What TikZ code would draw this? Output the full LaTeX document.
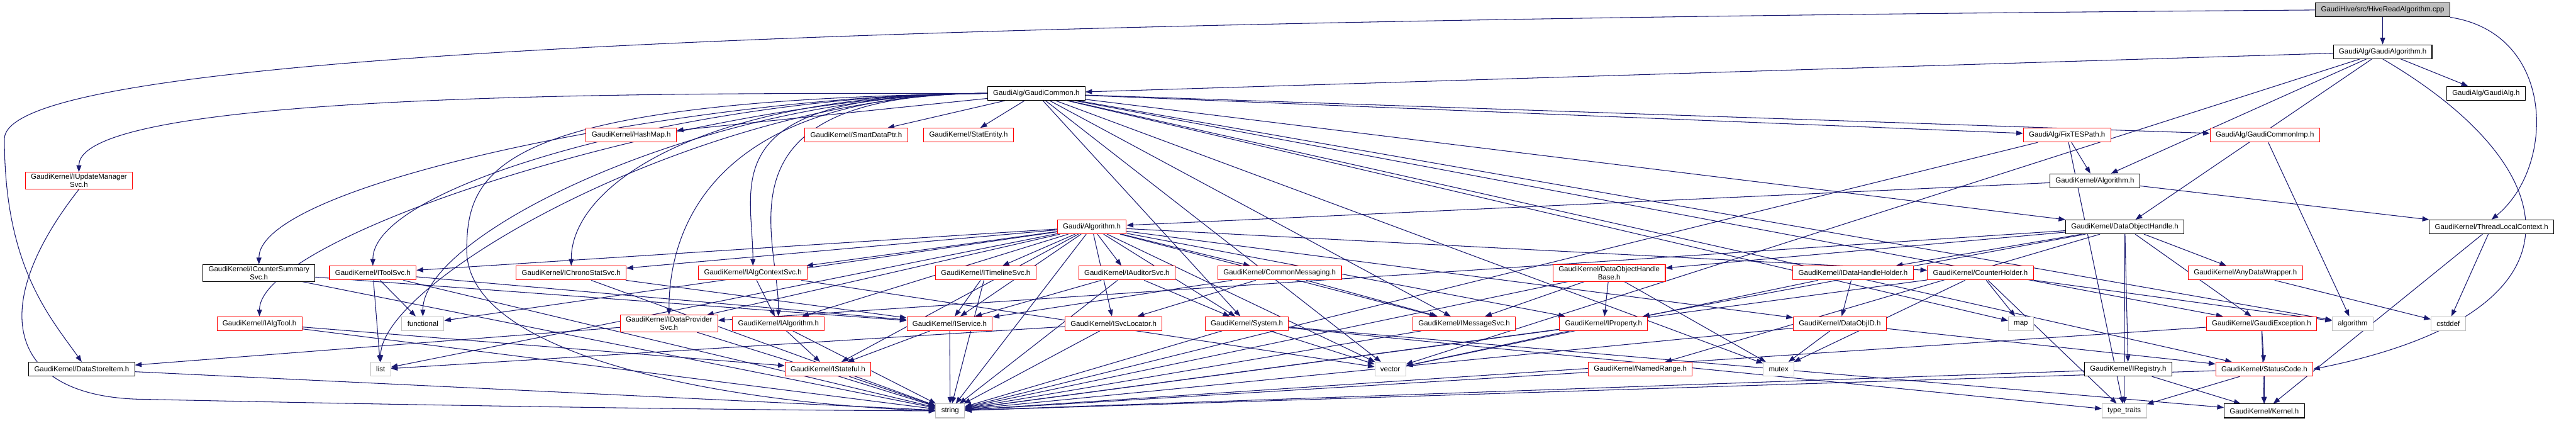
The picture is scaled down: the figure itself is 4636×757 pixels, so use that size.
\documentclass[tikz,border=0pt]{standalone}
\usepackage{fontspec}
\setmainfont{Liberation Sans}
\usetikzlibrary{arrows.meta, positioning, backgrounds}

\definecolor{edgeblue}{HTML}{191970}
\definecolor{boxgray}{HTML}{BFBFBF}

\tikzset{
  hdrbox/.style={draw, fill=white, line width=1.2pt, align=center,
    inner xsep=10pt, inner ysep=3pt, minimum height=25pt,
    font=\fontsize{13}{14.5}\selectfont},
  blackbox/.style={hdrbox, draw=black},
  redbox/.style={hdrbox, draw=red},
  graybox/.style={hdrbox, draw=boxgray},
  dep/.style={draw=edgeblue, line width=1.2pt, -{Triangle[length=12pt,width=9pt]}},
}

\begin{document}
\begin{tikzpicture}[x=1pt, y=-1pt]
  \useasboundingbox (0,0) rectangle (4636,757);

  % top: the source file and the algorithm base
  \node[blackbox, fill=boxgray] (hive) at (4288,18) {GaudiHive/src/HiveReadAlgorithm.cpp};
  \node[blackbox] (galgo)   at (4288,93)  {GaudiAlg/GaudiAlgorithm.h};
  \node[blackbox] (gcommon) at (1865,168) {GaudiAlg/GaudiCommon.h};
  \node[blackbox] (galg)    at (4474,168) {GaudiAlg/GaudiAlg.h};

  % row 4
  \node[redbox] (hashmap)    at (1136,243) {GaudiKernel/HashMap.h};
  \node[redbox] (smartptr)   at (1541,243) {GaudiKernel/SmartDataPtr.h};
  \node[redbox] (statentity) at (1743,243) {GaudiKernel/StatEntity.h};
  \node[redbox] (fixtes)     at (3720,243) {GaudiAlg/FixTESPath.h};
  \node[redbox] (gcimp)      at (4076,243) {GaudiAlg/GaudiCommonImp.h};

  % rows 5 and 6
  \node[redbox]   (iums)       at (142,325)  {GaudiKernel/IUpdateManager\\Svc.h};
  \node[blackbox] (gkalgo)     at (3770,325) {GaudiKernel/Algorithm.h};
  \node[redbox]   (galgorithm) at (1965,408) {Gaudi/Algorithm.h};
  \node[blackbox] (doh)        at (3824,408) {GaudiKernel/DataObjectHandle.h};
  \node[blackbox] (tlc)        at (4484,408) {GaudiKernel/ThreadLocalContext.h};

  % row 7
  \node[blackbox] (icss)          at (466,491)  {GaudiKernel/ICounterSummary\\Svc.h};
  \node[redbox]   (itoolsvc)      at (671,491)  {GaudiKernel/IToolSvc.h};
  \node[redbox]   (ichrono)       at (1028,491) {GaudiKernel/IChronoStatSvc.h};
  \node[redbox]   (ialgctx)       at (1355,491) {GaudiKernel/IAlgContextSvc.h};
  \node[redbox]   (itimeline)     at (1774,491) {GaudiKernel/ITimelineSvc.h};
  \node[redbox]   (iauditor)      at (2028,491) {GaudiKernel/IAuditorSvc.h};
  \node[redbox]   (commsg)        at (2303,491) {GaudiKernel/CommonMessaging.h};
  \node[redbox]   (dohbase)       at (2896,491) {GaudiKernel/DataObjectHandle\\Base.h};
  \node[redbox]   (idhh)          at (3335,491) {GaudiKernel/IDataHandleHolder.h};
  \node[redbox]   (counterholder) at (3564,491) {GaudiKernel/CounterHolder.h};
  \node[redbox]   (anydw)         at (4041,491) {GaudiKernel/AnyDataWrapper.h};

  % row 8
  \node[redbox]  (ialgtool)   at (467,582)  {GaudiKernel/IAlgTool.h};
  \node[graybox] (functional) at (761,582)  {functional};
  \node[redbox]  (idps)       at (1204,582) {GaudiKernel/IDataProvider\\Svc.h};
  \node[redbox]  (ialgorithm) at (1401,582) {GaudiKernel/IAlgorithm.h};
  \node[redbox]  (iservice)   at (1709,582) {GaudiKernel/IService.h};
  \node[redbox]  (isvcloc)    at (2004,582) {GaudiKernel/ISvcLocator.h};
  \node[redbox]  (system)     at (2244,582) {GaudiKernel/System.h};
  \node[redbox]  (imsg)       at (2635,582) {GaudiKernel/IMessageSvc.h};
  \node[redbox]  (iproperty)  at (2886,582) {GaudiKernel/IProperty.h};
  \node[redbox]  (dataobjid)  at (3311,582) {GaudiKernel/DataObjID.h};
  \node[graybox] (map)        at (3637,582) {map};
  \node[redbox]  (gexc)       at (4070,582) {GaudiKernel/GaudiException.h};
  \node[graybox] (algorithm)  at (4234,582) {algorithm};
  \node[graybox] (cstddef)    at (4406,582) {cstddef};

  % row 9
  \node[blackbox] (dsi)        at (147,664)  {GaudiKernel/DataStoreItem.h};
  \node[graybox]  (list)       at (685,664)  {list};
  \node[redbox]   (istateful)  at (1490,664) {GaudiKernel/IStateful.h};
  \node[graybox]  (vector)     at (2502,664) {vector};
  \node[redbox]   (namedrange) at (2952,664) {GaudiKernel/NamedRange.h};
  \node[graybox]  (mutex)      at (3201,664) {mutex};
  \node[blackbox] (iregistry)  at (3830,664) {GaudiKernel/IRegistry.h};
  \node[redbox]   (statuscode) at (4075,664) {GaudiKernel/StatusCode.h};

  % bottom row
  \node[graybox]  (string)     at (1710,739) {string};
  \node[graybox]  (typetraits) at (3823,739) {type\_traits};
  \node[blackbox] (kernel)     at (4075,739) {GaudiKernel/Kernel.h};

  \begin{pgfonlayer}{background}
  % source file
  \draw[dep] (hive) -- (galgo);
  \draw[dep] (hive.south east) .. controls (4600,60) and (4600,300) .. (tlc.north);
  \draw[dep] (hive.west) .. controls (1200,40) and (8,110) .. (8,250)
    .. controls (8,480) and (90,570) .. (dsi.north);
  % GaudiAlgorithm.h
  \foreach \t in {gcommon,galg,gkalgo,doh,vector}
    \draw[dep] (galgo) -- (\t);
  \draw[dep] (galgo.south) .. controls (4620,300) and (4680,560) .. (statuscode.east);
  % GaudiCommon.h
  \foreach \t in {iums,icss,ialgtool,itoolsvc,functional,list,ichrono,idps,ialgorithm,ialgctx}
    \draw[dep] (gcommon.west) .. controls +(-500,0) and +(0,-150) .. (\t.north);
  \foreach \t in {hashmap,smartptr,statentity,system,imsg,vector,mutex,map,fixtes,gcimp,doh,algorithm,statuscode,gexc}
    \draw[dep] (gcommon) -- (\t);
  \draw[dep] (gcommon.west) .. controls (900,180) and (840,300) .. (840,450)
    .. controls (840,640) and (1300,725) .. (string.west);
  % Gaudi/Algorithm.h
  \foreach \t in {itoolsvc,ichrono,idps,ialgctx,ialgorithm,istateful,iservice,itimeline,iauditor,commsg,isvcloc,system,imsg,iproperty,string,vector,dataobjid,counterholder,functional,list}
    \draw[dep] (galgorithm) -- (\t);
  % the rest
  \draw[dep] (gkalgo) -- (galgorithm);
  \draw[dep] (gkalgo) -- (tlc);
  \foreach \t in {gkalgo,typetraits,string} \draw[dep] (fixtes) -- (\t);
  \draw[dep] (gcimp) -- (algorithm);
  \foreach \t in {dohbase,namedrange,iproperty,idhh,iregistry,typetraits,gexc,anydw,idps}
    \draw[dep] (doh) -- (\t);
  \draw[dep] (anydw) -- (cstddef);
  \draw[dep] (tlc) -- (cstddef);
  \draw[dep] (tlc) -- (kernel);
  \foreach \t in {imsg,iproperty,mutex,string} \draw[dep] (dohbase) -- (\t);
  \foreach \t in {dataobjid,vector} \draw[dep] (idhh) -- (\t);
  \foreach \t in {mutex,string,statuscode} \draw[dep] (dataobjid) -- (\t);
  \foreach \t in {mutex,map,typetraits,string,algorithm} \draw[dep] (counterholder) -- (\t);
  \draw[dep] (namedrange) -- (string);
  \foreach \t in {kernel,string} \draw[dep] (iregistry) -- (\t);
  \foreach \t in {kernel,typetraits,string} \draw[dep] (statuscode) -- (\t);
  \foreach \t in {statuscode,kernel,string} \draw[dep] (gexc) -- (\t);
  \foreach \t in {string,vector,kernel,typetraits} \draw[dep] (system) -- (\t);
  \draw[dep] (imsg) -- (string);
  \foreach \t in {vector,string} \draw[dep] (iproperty) -- (\t);
  \foreach \t in {isvcloc,imsg,iservice} \draw[dep] (commsg) -- (\t);
  \foreach \t in {iservice,system,string} \draw[dep] (iauditor) -- (\t);
  \foreach \t in {iservice,string} \draw[dep] (itimeline) -- (\t);
  \foreach \t in {list,string} \draw[dep] (isvcloc) -- (\t);
  \foreach \t in {istateful,string} \draw[dep] (iservice) -- (\t);
  \foreach \t in {istateful,string} \draw[dep] (ialgorithm) -- (\t);
  \draw[dep] (istateful) -- (string);
  \foreach \t in {ialgorithm,vector} \draw[dep] (ialgctx) -- (\t);
  \foreach \t in {dsi,string} \draw[dep] (idps) -- (\t);
  \foreach \t in {iservice,string} \draw[dep] (ichrono) -- (\t);
  \foreach \t in {functional,list,string,iservice} \draw[dep] (itoolsvc) -- (\t);
  \foreach \t in {istateful,string} \draw[dep] (ialgtool) -- (\t);
  \foreach \t in {iservice,string} \draw[dep] (icss) -- (\t);
  \draw[dep] (dsi) -- (string);
  \draw[dep] (iums.south) .. controls (-30,560) and (20,712) .. (250,718)
    .. controls (900,732) and (1400,738) .. (string.west);
  \end{pgfonlayer}
\end{tikzpicture}
\end{document}
